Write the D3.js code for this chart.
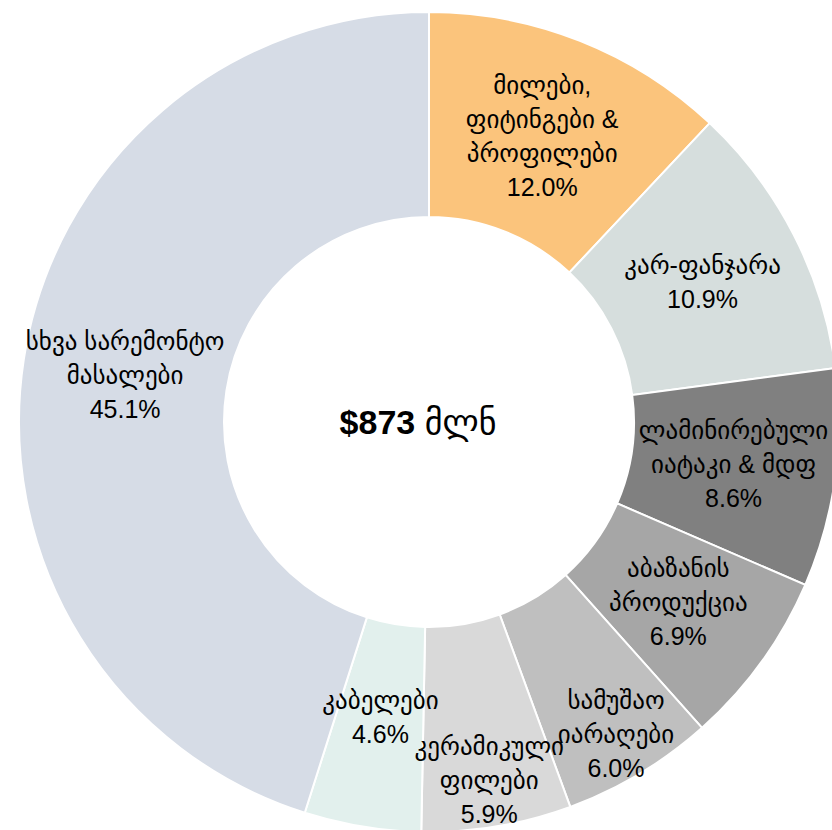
<!DOCTYPE html>
<html>
<head>
<meta charset="utf-8">
<script src="https://cdn.jsdelivr.net/npm/d3@7"></script>
<style>
  html, body { margin: 0; padding: 0; background: #fff; }
  svg { display: block; }
</style>
</head>
<body>
<svg></svg>
<script>
const svgWidth = 832;
const svgHeight = 830;

// chart data
const categories = [
	"მილები,\nფიტინგები &\nპროფილები",
	"კარ-ფანჯარა",
	"ლამინირებული\nიატაკი & მდფ",
	"აბაზანის\nპროდუქცია",
	"სამუშაო\nიარაღები",
	"კერამიკული\nფილები",
	"კაბელები",
	"სხვა სარემონტო\nმასალები"
];
const shares = [12.0, 10.9, 8.6, 6.9, 6.0, 5.9, 4.6, 45.1];
const colors = ["#fbc47c", "#d6dedd", "#808080", "#a6a6a6", "#bfbfbf", "#d9d9d9", "#e2f0ed", "#d6dce6"];
const centerValue = "$873";
const centerUnit = "მლნ";

const cx = 429, cy = 422;
const outerR = 410, innerR = 205;
const fontSize = 25, lineHeight = 34;
const fontFamily = "'Liberation Sans', Arial, 'DejaVu Sans', sans-serif";
// labels of the small bottom slices are nudged along the radius so they don't collide
const labelShift = [0, 0, 0, 0, 56, 56, -9, 0];

const svg = d3.select("svg")
	.attr("width", svgWidth)
	.attr("height", svgHeight);

const data = categories.map((c, i) => ({ name: c, value: shares[i], color: colors[i], shift: labelShift[i] }));

const pie = d3.pie()
	.sort(null)
	.value(d => d.value);

const arcs = pie(data);

const arc = d3.arc()
	.innerRadius(innerR)
	.outerRadius(outerR);

const g = svg.append("g")
	.attr("transform", `translate(${cx}, ${cy})`);

g.selectAll(".slice")
	.data(arcs)
	.enter()
	.append("path")
	.classed("slice", true)
	.attr("d", arc)
	.attr("fill", d => d.data.color)
	.attr("stroke", "#fff")
	.attr("stroke-width", 2);

// slice labels: name lines + percentage, drawn over all slices
g.selectAll(".label")
	.data(arcs)
	.enter()
	.append("text")
	.classed("label", true)
	.attr("transform", d => {
		const r = (innerR + outerR) / 2 + d.data.shift;
		return `translate(${d3.arc().innerRadius(r).outerRadius(r).centroid(d)})`;
	})
	.attr("text-anchor", "middle")
	.attr("font-family", fontFamily)
	.attr("font-size", fontSize)
	.attr("fill", "#000")
	.each(function (d) {
		const lines = d.data.name.split("\n").concat([d.data.value.toFixed(1) + "%"]);
		const t = d3.select(this);
		lines.forEach((line, i) => {
			t.append("tspan")
				.attr("x", 0)
				.attr("y", (i - (lines.length - 1) / 2) * lineHeight)
				.attr("dominant-baseline", "central")
				.text(line);
		});
	});

// center total
const center = g.append("text")
	.attr("x", -11)
	.attr("text-anchor", "middle")
	.attr("dominant-baseline", "central")
	.attr("font-family", fontFamily)
	.attr("font-size", 34)
	.attr("fill", "#000");

center.append("tspan")
	.attr("font-weight", "bold")
	.text(centerValue + " ");

center.append("tspan")
	.text(centerUnit);
</script>
</body>
</html>
